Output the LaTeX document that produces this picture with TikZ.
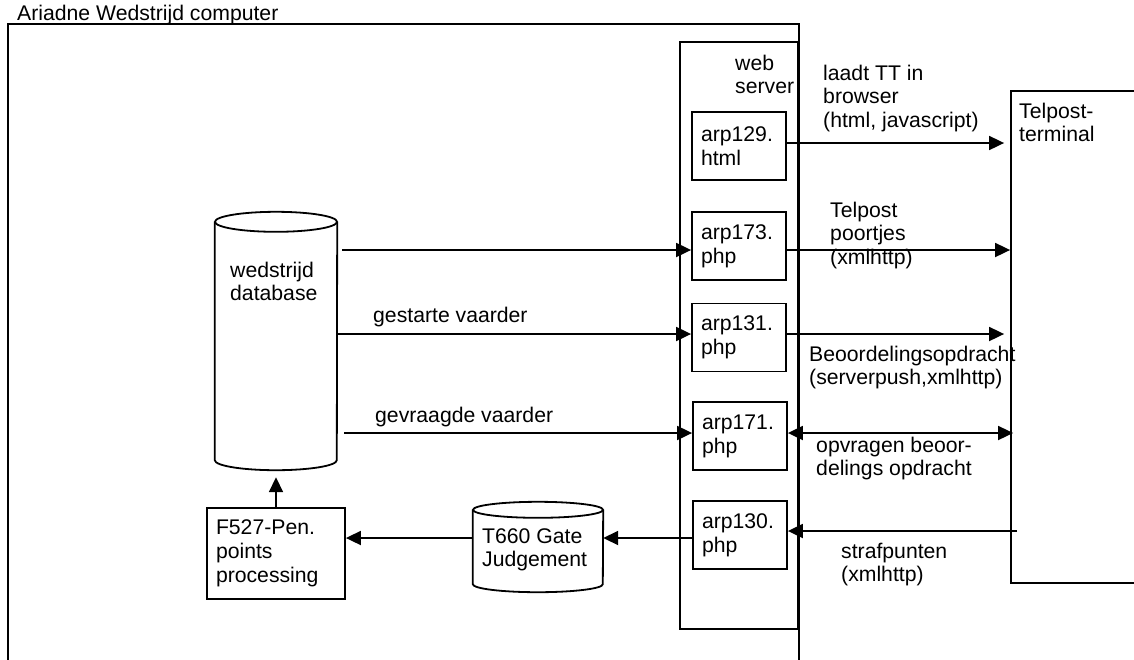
\documentclass[tikz,border=0pt]{standalone}
\usepackage{fontspec}
\setmainfont{Liberation Sans}
\usetikzlibrary{arrows.meta}
\newcommand\mlines[1]{\begin{tabular}[t]{@{}l@{}}#1\end{tabular}}
\begin{document}
\begin{tikzpicture}[x=1pt,y=-1pt,
  every node/.style={font=\fontsize{21.2}{23.8}\selectfont},
  ln/.style={line width=1.8pt},
  arr/.style={ln,-{Triangle[length=15pt,width=14pt]}},
  biarr/.style={ln,{Triangle[length=15pt,width=14pt]}-{Triangle[length=15pt,width=14pt]}},
  frame/.style={draw,ln,rectangle,inner sep=0pt},
  phpbox/.style={draw,ln,rectangle,minimum width=94pt,minimum height=68pt,text width=76pt,align=left,inner xsep=9pt,inner ysep=0pt},
  lbl/.style={anchor=base west,inner sep=0pt},
  cyl/.style={rectangle,inner sep=0pt}
]
\useasboundingbox (0,0) rectangle (1134,659);
\fill[white] (0,0) rectangle (1134,659);

% containers
\node[frame, minimum width=791pt, minimum height=676pt] (comp) at (403.5,362) {};
\node[lbl] (title) at (17,20) {Ariadne Wedstrijd computer};
\node[frame, minimum width=118pt, minimum height=587pt] (web) at (739,335.5) {};
\node[lbl] (webl) at (735,70) {\mlines{web\\server}};
\node[frame, minimum width=160pt, minimum height=492pt] (term) at (1091,337) {};
\node[lbl] (terml) at (1019,118) {\mlines{Telpost-\\terminal}};

% php boxes
\node[phpbox] (a129) at (739,146) {arp129.\\html};
\node[phpbox] (a173) at (739,246) {arp173.\\php};
\node[phpbox] (a131) at (739,337.5) {arp131.\\php};
\node[phpbox] (a171) at (740,436) {arp171.\\php};
\node[phpbox] (a130) at (740,535) {arp130.\\php};

% database cylinder
\node[cyl, minimum width=122pt, minimum height=258pt] (db) at (276,341) {};
\draw[ln] ([yshift=-10pt]db.north west) -- ([yshift=10pt]db.south west)
  arc[start angle=180,end angle=360,x radius=61pt,y radius=10pt]
  -- ([yshift=-10pt]db.north east);
\draw[ln] ([yshift=-10pt]db.north) ellipse[x radius=61pt,y radius=10pt];
\node[lbl] (dbl) at (230,277) {\mlines{wedstrijd\\database}};

% T660 cylinder
\node[cyl, minimum width=130pt, minimum height=90pt] (t660) at (538,547) {};
\draw[ln] ([yshift=-8pt]t660.north west) -- ([yshift=8pt]t660.south west)
  arc[start angle=180,end angle=360,x radius=65pt,y radius=8pt]
  -- ([yshift=-8pt]t660.north east);
\draw[ln] ([yshift=-8pt]t660.north) ellipse[x radius=65pt,y radius=8pt];
\node[lbl] (t660l) at (482,543) {\mlines{T660 Gate\\Judgement}};

% F527 box
\node[draw,ln,rectangle,minimum width=138pt,minimum height=91pt,text width=120pt,align=left,inner xsep=9pt,inner ysep=0pt] (f527) at (276,553.5) {F527-Pen.\\points\\processing};

% left connectors
\coordinate (y173) at ([yshift=-4pt]a173.west);
\draw[arr,shorten <=5pt] (db.east |- y173) -- (y173);
\coordinate (y131) at ([yshift=3.5pt]a131.west);
\draw[arr] (db.east |- y131) -- (y131);
\coordinate (y171) at ([yshift=3pt]a171.west);
\draw[arr,shorten <=7pt] (db.east |- y171) -- (y171);
\coordinate (y130) at ([yshift=-3pt]a130.west);
\draw[arr] (y130) -- (t660.east |- y130);
\draw[arr] (t660.west |- y130) -- (f527.east |- y130);
\draw[arr,shorten >=7pt] (f527.north) -- (db.south);

% right connectors
\coordinate (r129) at ([yshift=3pt]a129.east);
\draw[arr,shorten >=6pt] (r129) -- (term.west |- r129);
\coordinate (r173) at ([yshift=-4pt]a173.east);
\draw[arr] (r173) -- (term.west |- r173);
\coordinate (r131) at ([yshift=3.5pt]a131.east);
\draw[arr,shorten >=6pt] (r131) -- (term.west |- r131);
\coordinate (r171) at ([yshift=3pt]a171.east);
\draw[biarr,shorten >=-3pt] (r171) -- (term.west |- r171);
\coordinate (r130) at ([yshift=4pt]a130.east);
\draw[arr,shorten <=-7pt] (term.west |- r130) -- (r130);

% labels
\node[lbl] (l129) at (823,80) {\mlines{laadt TT in\\browser\\(html, javascript)}};
\node[lbl] (l173) at (830,217) {\mlines{Telpost\\poortjes\\(xmlhttp)}};
\node[lbl] (l131) at (809,361) {\mlines{Beoordelingsopdracht\\(serverpush,xmlhttp)}};
\node[lbl] (l171) at (816,452) {\mlines{opvragen beoor-\\delings opdracht}};
\node[lbl] (l130) at (841,558) {\mlines{strafpunten\\(xmlhttp)}};
\node[lbl] (lgest) at (373,322) {gestarte vaarder};
\node[lbl] (lgevr) at (375,422) {gevraagde vaarder};
\end{tikzpicture}
\end{document}
